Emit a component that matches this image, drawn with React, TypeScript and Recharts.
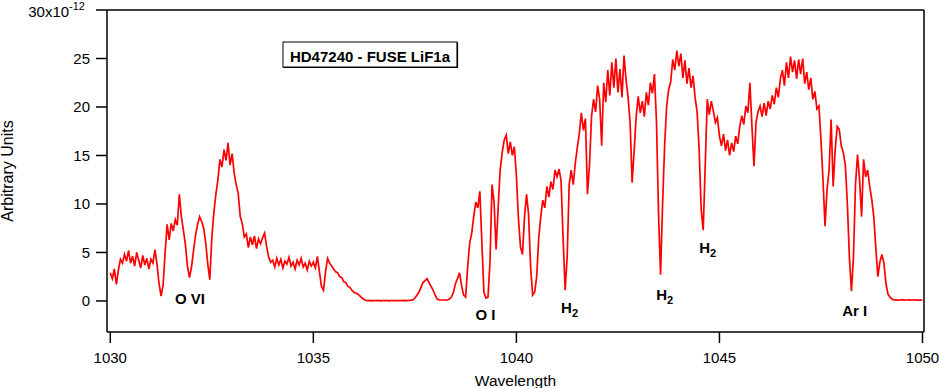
import React from 'react';
import { LineChart, Line, XAxis, YAxis, ReferenceLine, ReferenceDot } from 'recharts';

const FONT = '"Liberation Sans", Arial, Helvetica, sans-serif';

// Flux values, one array per Angstrom, sampled every 0.05 A
const f1030 = [2.9, 2.3, 3.3, 1.7, 3.2, 4.3, 3.9, 4.8, 4.1, 5.2, 3.9, 4.6, 3.6, 5.0, 4.2, 3.4, 4.7, 3.7, 4.4, 3.3];
const f1031 = [4.3, 3.9, 5.3, 3.8, 1.8, 0.5, 1.6, 5.0, 7.9, 6.3, 8.0, 7.2, 8.4, 7.8, 11.0, 8.7, 7.3, 5.8, 3.6, 2.4];
const f1032 = [3.5, 5.2, 6.8, 7.9, 8.7, 8.2, 7.5, 6.0, 3.8, 2.2, 6.5, 9.1, 11.0, 12.5, 14.6, 13.8, 15.6, 14.5, 16.3, 14.0];
const f1033 = [15.2, 13.2, 12.0, 11.1, 8.7, 8.0, 6.6, 6.9, 5.5, 6.6, 5.8, 6.7, 5.4, 6.4, 5.9, 6.5, 7.0, 5.6, 4.5, 4.0];
const f1034 = [4.2, 3.5, 4.4, 3.7, 4.3, 3.4, 4.1, 3.8, 4.5, 3.6, 4.0, 3.3, 4.2, 3.7, 4.4, 3.5, 3.9, 3.2, 4.1, 3.6];
const f1035 = [4.0, 3.4, 4.6, 3.0, 1.5, 1.1, 3.0, 4.4, 3.9, 3.6, 3.3, 3.0, 2.9, 2.5, 2.4, 2.0, 1.9, 1.5, 1.4, 1.1];
const f1036 = [0.9, 0.8, 0.7, 0.5, 0.3, 0.15, 0.05, 0.03, 0.05, 0.02, 0.04, 0.03, 0.05, 0.02, 0.04, 0.03, 0.05, 0.02, 0.04, 0.03];
const f1037 = [0.05, 0.03, 0.04, 0.05, 0.03, 0.06, 0.04, 0.05, 0.08, 0.1, 0.3, 0.6, 0.9, 1.4, 1.9, 2.1, 2.3, 1.9, 1.5, 1.1];
const f1038 = [0.6, 0.2, 0.1, 0.1, 0.1, 0.1, 0.1, 0.2, 0.4, 0.9, 1.8, 2.3, 2.9, 1.6, 0.6, 0.4, 3.5, 6.0, 7.0, 8.7];
const f1039 = [10.2, 9.6, 11.3, 6.0, 0.9, 0.3, 0.4, 4.0, 12.0, 10.2, 5.3, 9.5, 13.5, 15.3, 16.6, 17.1, 15.2, 16.4, 15.0, 15.9];
const f1040 = [12.9, 8.5, 5.6, 4.8, 8.7, 11.0, 8.9, 3.5, 0.6, 0.9, 2.5, 6.5, 8.7, 10.4, 9.6, 11.8, 10.7, 12.3, 11.5, 13.5];
const f1041 = [12.8, 13.6, 12.4, 6.5, 1.1, 4.5, 12.0, 13.5, 12.0, 14.2, 15.8, 17.3, 19.4, 17.6, 18.8, 11.0, 14.0, 19.0, 20.8, 19.5];
const f1042 = [22.2, 20.8, 16.0, 22.5, 20.5, 23.8, 21.2, 24.6, 22.0, 25.0, 21.5, 23.9, 21.0, 25.3, 22.8, 21.0, 18.4, 12.2, 15.5, 19.0];
const f1043 = [21.1, 19.4, 20.6, 19.0, 21.5, 20.2, 22.5, 21.4, 23.4, 18.4, 9.0, 2.7, 10.0, 16.0, 20.1, 21.8, 22.6, 24.9, 23.8, 25.8];
const f1044 = [24.2, 25.5, 23.0, 24.8, 22.4, 24.0, 22.0, 23.2, 21.0, 19.5, 15.6, 9.5, 7.3, 14.0, 20.8, 19.2, 20.6, 19.6, 18.4, 18.9];
const f1045 = [17.0, 16.0, 17.2, 15.5, 16.6, 15.0, 16.3, 15.4, 17.0, 16.2, 18.0, 19.1, 18.2, 20.1, 19.4, 22.5, 18.0, 13.9, 18.4, 19.5];
const f1046 = [20.1, 19.0, 20.4, 19.1, 20.6, 19.8, 21.2, 20.3, 22.0, 21.0, 22.9, 23.8, 22.2, 24.6, 23.0, 25.2, 23.6, 24.8, 22.9, 24.9];
const f1047 = [23.4, 25.0, 22.4, 23.6, 21.8, 23.0, 20.8, 21.6, 19.8, 20.1, 16.6, 12.5, 7.7, 11.5, 13.5, 18.7, 11.8, 15.6, 18.0, 17.7];
const f1048 = [16.0, 15.3, 14.0, 10.0, 4.5, 1.0, 4.5, 12.0, 15.1, 12.5, 8.7, 14.6, 12.8, 13.5, 11.8, 10.5, 8.7, 5.5, 2.5, 4.0];
const f1049 = [4.8, 3.9, 1.8, 0.7, 0.4, 0.2, 0.1, 0.12, 0.08, 0.1, 0.13, 0.09, 0.1, 0.12, 0.08, 0.1, 0.11, 0.09, 0.1, 0.08];
const fEnd = 0.1;

const WAVE_START = 1030;
const WAVE_STEP = 0.05;
const xTicks = [1030, 1035, 1040, 1045, 1050];
const yTicks = [0, 5, 10, 15, 20, 25, 30];

const annotations = [
  { label: 'O VI', sub: '', w: 1031.96, v: -0.31 },
  { label: 'O I', sub: '', w: 1039.24, v: -1.96 },
  { label: 'H', sub: '2', w: 1041.31, v: -1.24 },
  { label: 'H', sub: '2', w: 1043.65, v: 0.15 },
  { label: 'H', sub: '2', w: 1044.71, v: 4.95 },
  { label: 'Ar I', sub: '', w: 1048.33, v: -1.55 },
];
const title = { text: 'HD47240 - FUSE LiF1a', w: 1036.395, v: 25.41 };

const segments = [f1030, f1031, f1032, f1033, f1034, f1035, f1036, f1037, f1038, f1039,
  f1040, f1041, f1042, f1043, f1044, f1045, f1046, f1047, f1048, f1049];

const data: { w: number; flux: number }[] = [];
segments.forEach((seg, i) => {
  seg.forEach((v, j) => {
    data.push({ w: +(WAVE_START + i + j * WAVE_STEP).toFixed(2), flux: v });
  });
});
data.push({ w: 1050, flux: fEnd });

const YTick = (props: any) => {
  const { x, y, payload } = props;
  if (payload.value === 30) {
    return (
      <text x={x - 5} y={y} dy={7} textAnchor="end" fontFamily={FONT} fontSize={15} fill="#000">
        30x10<tspan dy={-7.5} fontSize={11}>-12</tspan>
      </text>
    );
  }
  return (
    <text x={x} y={y} dy="0.355em" textAnchor="end" fontFamily={FONT} fontSize={15} fill="#000">
      {payload.value}
    </text>
  );
};

const annotShape = (label: string, sub: string) => (props: any) => (
  <text x={props.cx} y={props.cy} textAnchor="middle" fontFamily={FONT} fontSize={15} fontWeight="bold" fill="#000">
    {label}
    {sub ? <tspan fontSize={11} dy={4}>{sub}</tspan> : null}
  </text>
);

const titleShape = (props: any) => {
  const { cx, cy } = props;
  return (
    <g>
      <rect x={cx - 87} y={cy - 12.5} width={174} height={25} fill="#fff" stroke="#000" strokeWidth={1} />
      <line x1={cx + 87.5} y1={cy - 12} x2={cx + 87.5} y2={cy + 13} stroke="#000" strokeWidth={1.2} />
      <line x1={cx - 86.5} y1={cy + 13} x2={cx + 88} y2={cy + 13} stroke="#000" strokeWidth={1.2} />
      <text x={cx} y={cy + 7.5} textAnchor="middle" fontFamily={FONT} fontSize={15} fontWeight="bold" fill="#000">
        {title.text}
      </text>
    </g>
  );
};

const YLabel = (props: any) => {
  const vb = props.viewBox || { x: 0, y: 10, width: 107, height: 322 };
  const cx = vb.x + 13;
  const cy = vb.y + vb.height / 2;
  return (
    <text x={cx} y={cy} transform={`rotate(-90, ${cx}, ${cy})`} textAnchor="middle" fontFamily={FONT} fontSize={16} fill="#000">
      Arbitrary Units
    </text>
  );
};

export default function App() {
  return (
    <div style={{ position: 'absolute', left: 0, top: 0, width: 939, height: 388, background: '#fff' }}>
      <LineChart width={939} height={388} data={data} margin={{ top: 10, right: 15, bottom: 0, left: 0 }}>
        <XAxis
          dataKey="w"
          type="number"
          domain={[1029.919, 1050.037]}
          ticks={xTicks}
          allowDataOverflow
          height={56}
          tickSize={11}
          tickMargin={9}
          axisLine={{ stroke: '#000', strokeWidth: 1.5 }}
          tickLine={{ stroke: '#000', strokeWidth: 1.5 }}
          tick={{ fill: '#000', fontSize: 15, fontFamily: FONT }}
          label={{ value: 'Wavelength', position: 'insideBottom', offset: 2, fill: '#000', fontSize: 15.5, fontFamily: FONT }}
        />
        <YAxis
          type="number"
          domain={[-3.2, 30]}
          ticks={yTicks}
          allowDataOverflow
          width={107}
          tickSize={11}
          tickMargin={6}
          axisLine={{ stroke: '#000', strokeWidth: 1.5 }}
          tickLine={{ stroke: '#000', strokeWidth: 1.5 }}
          tick={<YTick />}
          label={<YLabel />}
        />
        <ReferenceLine y={30} stroke="#000" strokeWidth={1.5} ifOverflow="visible" />
        <ReferenceLine x={1050.037} stroke="#000" strokeWidth={1.5} ifOverflow="visible" />
        <Line
          dataKey="flux"
          type="linear"
          stroke="#ff0000"
          strokeWidth={1.7}
          dot={false}
          isAnimationActive={false}
        />
        {annotations.map((a, i) => (
          <ReferenceDot key={i} x={a.w} y={a.v} r={0} ifOverflow="visible" shape={annotShape(a.label, a.sub)} />
        ))}
        <ReferenceDot x={title.w} y={title.v} r={0} ifOverflow="visible" shape={titleShape} />
      </LineChart>
    </div>
  );
}
